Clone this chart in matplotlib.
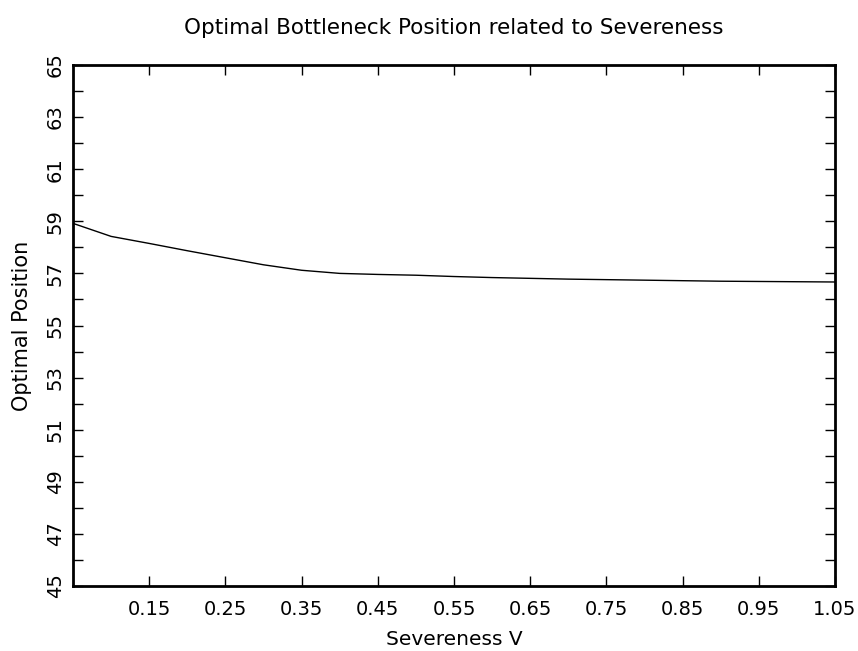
import matplotlib
matplotlib.use("Agg")
import matplotlib.pyplot as plt
from matplotlib.ticker import MultipleLocator

# Severeness V vs optimal bottleneck position
severeness = [0.05, 0.10, 0.15, 0.20, 0.25, 0.30, 0.35, 0.40, 0.45, 0.50, 0.55,
              0.60, 0.65, 0.70, 0.75, 0.80, 0.85, 0.90, 0.95, 1.00, 1.05]
position = [58.92, 58.42, 58.15, 57.87, 57.60, 57.33, 57.12, 57.00, 56.96, 56.93, 56.88,
            56.84, 56.81, 56.78, 56.76, 56.74, 56.72, 56.70, 56.69, 56.68, 56.67]
xticks = [0.15, 0.25, 0.35, 0.45, 0.55, 0.65, 0.75, 0.85, 0.95, 1.05]
yticks = [45, 47, 49, 51, 53, 55, 57, 59, 61, 63, 65]

plt.rcParams['font.family'] = ['DejaVu Sans']

fig = plt.figure(figsize=(8.58, 6.51), dpi=100)
ax = fig.add_axes([0.0851, 0.0998, 0.8881, 0.8004])

ax.plot(severeness, position, color='black', linewidth=1.0)

ax.set_xlim(0.05, 1.05)
ax.set_ylim(45, 65)
ax.set_xticks(xticks)
ax.set_xticklabels([f"{t:.2f}" for t in xticks])
ax.set_yticks(yticks)
ax.set_yticklabels([str(t) for t in yticks], rotation=90, va='center')
ax.yaxis.set_minor_locator(MultipleLocator(1))

ax.tick_params(which='both', direction='in', top=True, right=True,
               length=7, width=1, labelsize=14, labelcolor='black')
ax.tick_params(axis='x', pad=10)
ax.tick_params(axis='y', pad=6)
for s in ax.spines.values():
    s.set_linewidth(2)

ax.set_title("Optimal Bottleneck Position related to Severeness", fontsize=15.5, pad=22)
ax.set_xlabel("Severeness V", fontsize=14.5, labelpad=8)
ax.set_ylabel("Optimal Position", fontsize=15, labelpad=10)

fig.savefig("out.png", dpi=100)
